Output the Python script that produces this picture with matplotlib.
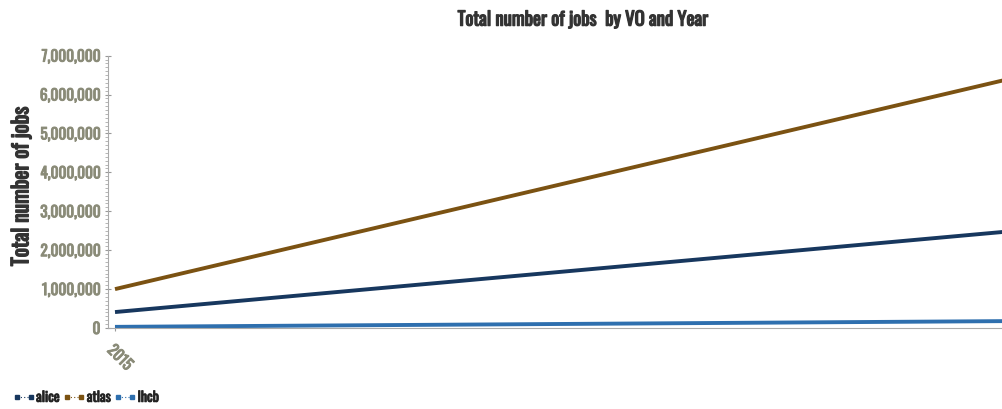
import matplotlib
matplotlib.use("Agg")
import matplotlib.pyplot as plt
import matplotlib.patheffects as pe
from matplotlib.ticker import FuncFormatter, MultipleLocator
from matplotlib import font_manager

years = [2015, 2016]
series_names = ["alice", "atlas", "lhcb"]
alice = [410000, 2510000]
atlas = [1000000, 6470000]
lhcb = [30000, 180000]
series_colors = ["#17375e", "#7b5212", "#2e6fae"]

names = {f.name for f in font_manager.fontManager.ttflist}
family = "DejaVu Sans"
for cand in ["Oswald", "League Gothic", "Roboto Condensed", "Liberation Sans Narrow"]:
    if cand in names:
        family = cand
        break
plt.rcParams["font.family"] = [family, "DejaVu Sans"]


def heavy(color, w=0.7):
    return [pe.withStroke(linewidth=w, foreground=color)]


fig = plt.figure(figsize=(10.03, 4.09), dpi=100)
ax = fig.add_axes([0.1077, 0.198, 0.91, 0.666])

for name, vals, col in zip(series_names, [alice, atlas, lhcb], series_colors):
    ax.plot(years, vals, color=col, lw=2.8, solid_capstyle="butt", label=name)

ax.set_xlim(2015 - 0.0077, 2016)
ax.set_ylim(0, 7000000)
ax.set_xticks([2015])
ax.set_xticklabels(["2015"], rotation=-45, ha="left", va="top",
                   rotation_mode="anchor", color="#8a8b78", fontsize=11)
ax.yaxis.set_major_locator(MultipleLocator(1000000))
ax.yaxis.set_minor_locator(MultipleLocator(100000))
ax.yaxis.set_major_formatter(FuncFormatter(lambda v, p: f"{int(v):,}"))
ax.tick_params(axis="y", which="major", length=5, color="#999999",
               labelcolor="#8a8b78", labelsize=11, direction="inout", pad=3)
ax.tick_params(axis="y", which="minor", length=2, color="#aaaaaa")
ax.tick_params(axis="x", length=5, color="#999999", direction="inout", pad=8)
for lab in ax.get_yticklabels() + ax.get_xticklabels():
    lab.set_path_effects(heavy("#8a8b78", 0.7))

for side in ["top", "right"]:
    ax.spines[side].set_visible(False)
for side in ["left", "bottom"]:
    ax.spines[side].set_color("#aaaaaa")
    ax.spines[side].set_linewidth(0.8)

ax.set_ylabel("Total number of jobs", fontsize=15.5, fontweight="bold",
              color="#333333", path_effects=heavy("#333333", 1.0))
ax.yaxis.set_label_coords(-0.083, 0.52)
fig.text(0.581, 0.952, "Total number of jobs  by VO and Year", ha="center",
         va="center", fontsize=13.5, fontweight="bold", color="#333333",
         path_effects=heavy("#333333", 0.9))

handles = [plt.Line2D([0], [0], color=c, lw=0.8, ls=(0, (1, 2)), marker="s",
                      markersize=3) for c in series_colors]
leg = fig.legend(handles, series_names, loc="lower left",
                 bbox_to_anchor=(0.0, -0.018), ncol=3, frameon=False,
                 handlelength=1.6, handletextpad=0.1, columnspacing=0.25,
                 numpoints=2, prop={"size": 10, "weight": "bold"})
for t in leg.get_texts():
    t.set_color("#222222")
    t.set_path_effects(heavy("#222222", 0.6))

fig.savefig("out.png", dpi=100)
